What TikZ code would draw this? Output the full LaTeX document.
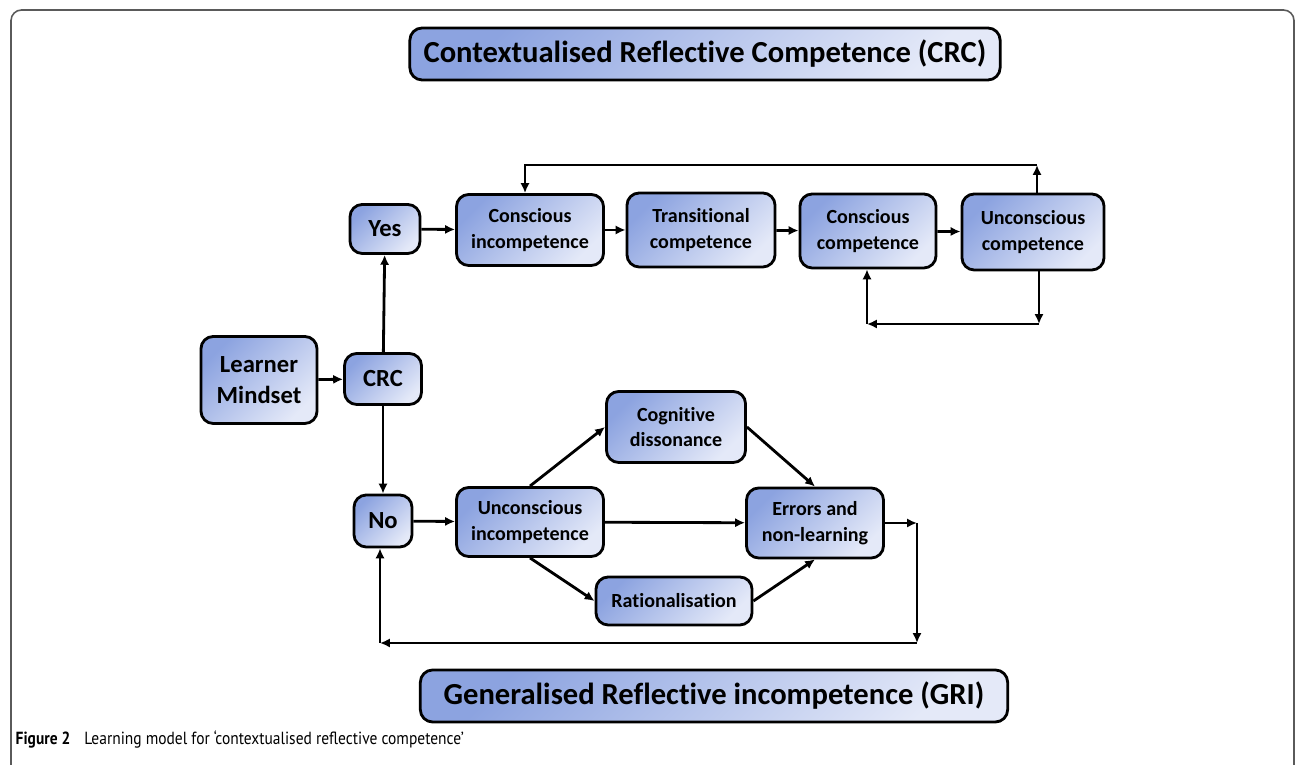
\documentclass[tikz,border=0pt]{standalone}
\usepackage{fontspec}
\setmainfont{Carlito}[Ligatures=NoCommon]
\newfontfamily\capfont{PT Sans}[FakeStretch=0.88]
\usetikzlibrary{arrows.meta}
\definecolor{boxdark}{RGB}{140,163,224}
\definecolor{boxlight}{RGB}{228,233,248}
\definecolor{framegray}{RGB}{90,90,90}
\begin{document}
\begin{tikzpicture}[x=0.01cm, y=-0.01cm,
		node/.style={draw, line width=0.8pt, rounded corners=3.5pt, inner sep=0pt, align=center,
			top color=boxdark, bottom color=boxlight, shading angle=45,
			font=\fontsize{5.7}{7.3}\selectfont\bfseries},
		big/.style={node, font=\fontsize{7}{8.7}\selectfont\bfseries},
		title/.style={node, font=\fontsize{8.7}{10}\selectfont\bfseries},
		>={Latex[length=2.8pt, width=2.6pt]}]
		\useasboundingbox (0,0) rectangle (1296,765);
		% Frame
		\draw[framegray, line width=0.45pt, rounded corners=3pt] (11,770) -- (11,10) -- (1294,10) -- (1294,770);
		% Titles
		\node[title, minimum width=5.9cm, minimum height=0.52cm] (CRC title) at (705,54) {Contextualised Reflective Competence (CRC)};
		\node[title, minimum width=5.87cm, minimum height=0.52cm] (GRI title) at (714,696) {Generalised Reflective incompetence (GRI)};
		% Boxes
		\node[big, minimum width=1.16cm, minimum height=0.87cm] (Learner mindset) at (259,380) {Learner\\Mindset};
		\node[big, minimum width=0.77cm, minimum height=0.51cm] (CRC) at (383,379) {CRC};
		\node[big, minimum width=0.7cm, minimum height=0.49cm] (Yes) at (385,229) {Yes};
		\node[big, minimum width=0.58cm, minimum height=0.52cm] (No) at (383,521) {No};
		\node[node, minimum width=1.47cm, minimum height=0.71cm] (Conscious incompetence) at (530,230) {Conscious\\incompetence};
		\node[node, minimum width=1.48cm, minimum height=0.74cm] (Transitional competence) at (701,230) {Transitional\\competence};
		\node[node, minimum width=1.36cm, minimum height=0.74cm] (Conscious competence) at (868,231) {Conscious\\competence};
		\node[node, minimum width=1.42cm, minimum height=0.76cm] (Unconscious competence) at (1033,232) {Unconscious\\competence};
		\node[node, minimum width=1.39cm, minimum height=0.71cm] (Cognitive dissonance) at (676,427) {Cognitive\\dissonance};
		\node[node, minimum width=1.47cm, minimum height=0.69cm] (Unconscious incompetence) at (530,522) {Unconscious\\incompetence};
		\node[node, minimum width=1.37cm, minimum height=0.7cm] (Errors) at (815,523) {Errors and\\non-learning};
		\node[node, minimum width=1.56cm, minimum height=0.48cm] (Rationalisation) at (674,601) {Rationalisation};
		% Caption
		\node[anchor=base west, inner sep=0pt, font=\capfont\fontsize{5}{6}\selectfont] (Caption) at (15,745)
			{\textbf{Figure 2}\hspace{0.8em}Learning model for ‘contextualised reflective competence’};
		% Corners of the loops
		\coordinate (Top right) at (1037,165);
		\coordinate (Top left) at (525,165);
		\coordinate (Low right) at (1039,324);
		\coordinate (Low left) at (867,324);
		\coordinate (Back top) at (917,523);
		\coordinate (Back bottom) at (917,643);
		\coordinate (Back left) at (380,643);
		% Arrows
		\draw[thick, ->] (Learner mindset) -- (CRC);
		\draw[thick, ->] (CRC) -- (Yes);
		\draw[thick, ->] (CRC) -- (No);
		\draw[thick, ->] (Yes) -- (Conscious incompetence);
		\draw[thick, ->] (Conscious incompetence) -- (Transitional competence);
		\draw[thick, ->] (Transitional competence) -- (Conscious competence);
		\draw[thick, ->] (Conscious competence) -- (Unconscious competence);
		\draw[thick, ->] (Unconscious competence.north -| Top right) -- (Top right);
		\draw[thick, ->] (Top right) -- (Top left) -- (Conscious incompetence.north -| Top left);
		\draw[thick, ->] (Unconscious competence.south -| Low right) -- (Low right);
		\draw[thick, ->] (Low right) -- (Low left);
		\draw[thick, ->] (Low left) -- (Conscious competence.south -| Low left);
		\draw[thick, ->] (No) -- (Unconscious incompetence);
		\draw[thick, ->] (Unconscious incompetence.north) -- (Cognitive dissonance.west);
		\draw[thick, ->] (Unconscious incompetence) -- (Errors);
		\draw[thick, ->] (Unconscious incompetence.south) -- (Rationalisation.west);
		\draw[thick, ->] (Cognitive dissonance.east) -- (Errors.north);
		\draw[thick, ->] (Rationalisation.east) -- (Errors.south);
		\draw[thick, ->] (Errors) -- (Back top);
		\draw[thick, ->] (Back top) -- (Back bottom);
		\draw[thick, ->] (Back bottom) -- (Back left);
		\draw[thick, ->] (Back left) -- (No.south -| Back left);
	\end{tikzpicture}
\end{document}
